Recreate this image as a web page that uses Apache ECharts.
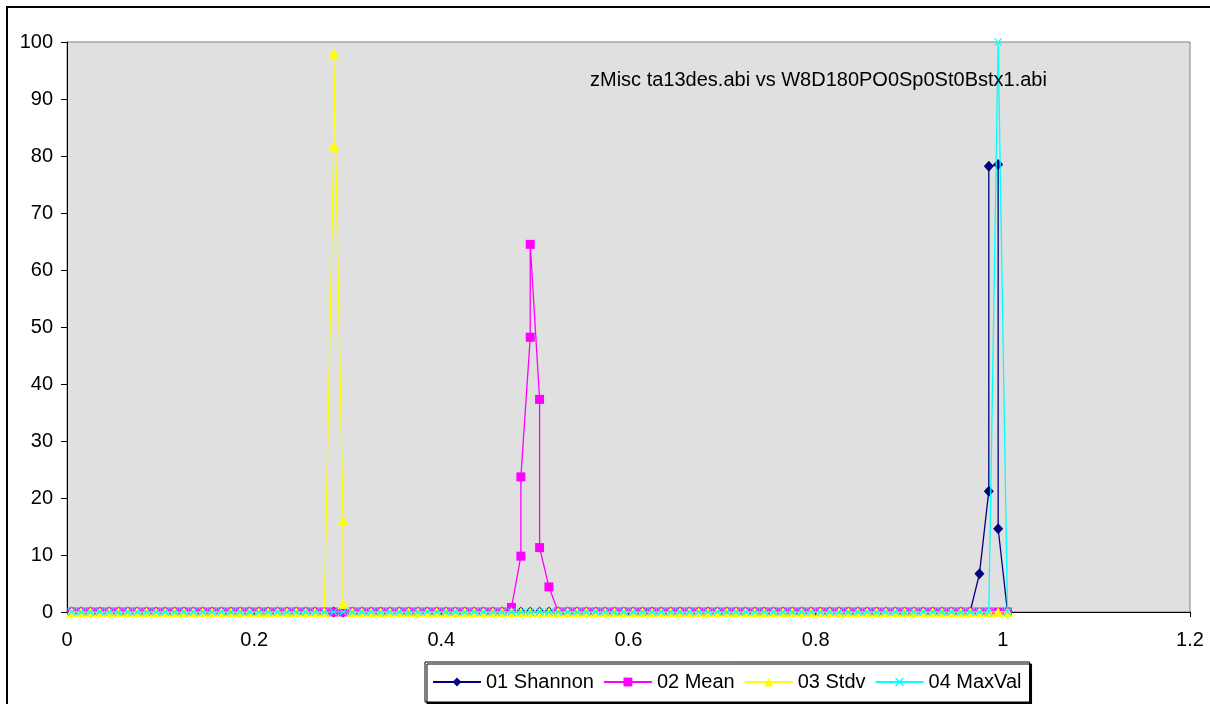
<!DOCTYPE html>
<html>
<head>
<meta charset="utf-8">
<script src="https://cdn.jsdelivr.net/npm/echarts@6/dist/echarts.min.js"></script>
<style>
html,body{margin:0;padding:0;background:#fff;}
#chart{width:1210px;height:704px;}
</style>
</head>
<body>
<div id="chart"></div>
<script>
// ---- data ----
const chartTitle = 'zMisc ta13des.abi vs W8D180PO0Sp0St0Bstx1.abi';
const seriesNames = ['01 Shannon', '02 Mean', '03 Stdv', '04 MaxVal'];
// bin centres where every series sits at 0 outside its peak
const xBins = [
  0.005,0.015,0.025,0.035,0.045,0.055,0.065,0.075,0.085,0.095,
  0.105,0.115,0.125,0.135,0.145,0.155,0.165,0.175,0.185,0.195,
  0.205,0.215,0.225,0.235,0.245,0.255,0.265,0.275,0.285,0.295,
  0.305,0.315,0.325,0.335,0.345,0.355,0.365,0.375,0.385,0.395,
  0.405,0.415,0.425,0.435,0.445,0.455,0.465,0.475,0.485,0.495,
  0.505,0.515,0.525,0.535,0.545,0.555,0.565,0.575,0.585,0.595,
  0.605,0.615,0.625,0.635,0.645,0.655,0.665,0.675,0.685,0.695,
  0.705,0.715,0.725,0.735,0.745,0.755,0.765,0.775,0.785,0.795,
  0.805,0.815,0.825,0.835,0.845,0.855,0.865,0.875,0.885,0.895,
  0.905,0.915,0.925,0.935,0.945,0.955,0.965,0.975,0.985,0.995,
  1.005
];
// peak points [x, y] (in drawing order)
const shannonPeak = [[0.965,0],[0.975,6.7],[0.985,21.2],[0.985,78.2],[0.995,78.5],[0.995,14.6],[1.005,0]];
const meanPeak    = [[0.465,0],[0.475,0.8],[0.485,9.8],[0.485,23.7],[0.495,48.2],[0.495,64.5],[0.505,37.3],[0.505,11.3],[0.515,4.4],[0.525,0]];
const stdvPeak    = [[0.275,0],[0.285,81.7],[0.285,98.0],[0.295,16.0],[0.295,1.4],[0.305,0]];
const maxValPeak  = [[0.985,0],[0.995,100],[1.005,0]];
const xTicks = {min: 0, max: 1.2, interval: 0.2};
const yTicks = {min: 0, max: 100, interval: 10};

function buildSeries(peak) {
  const s = peak[0][0], e = peak[peak.length - 1][0];
  const before = xBins.filter(x => x < s - 1e-9).map(x => [x, 0]);
  const after = xBins.filter(x => x > e + 1e-9).map(x => [x, 0]);
  return before.concat(peak, after);
}

const FONT = "'Liberation Sans', Arial, sans-serif";
const colors = ['#000080', '#FF00FF', '#FFFF00', '#00FFFF'];
const xMark = 'path://M1,0L5,4L9,0L10,1L6,5L10,9L9,10L5,6L1,10L0,9L4,5L0,1Z';
const peaks = [shannonPeak, meanPeak, stdvPeak, maxValPeak];
const symbols = ['diamond', 'rect', 'triangle', xMark];
const symbolSizes = [[10, 11], 9, [11, 10], 8];

const chart = echarts.init(document.getElementById('chart'), null, {renderer: 'canvas'});
chart.setOption({
  animation: false,
  backgroundColor: '#ffffff',
  color: colors,
  title: {
    text: chartTitle,
    left: 590, top: 70, padding: 0,
    textStyle: {fontFamily: FONT, fontSize: 20, fontWeight: 'normal', color: '#000'}
  },
  graphic: [{
    type: 'rect', silent: true, z: -1,
    shape: {x: 7, y: 7, width: 1220, height: 720},
    style: {fill: null, stroke: '#000', lineWidth: 2}
  }],
  grid: {
    left: 67, right: 20, top: 42, bottom: 92,
    show: true, backgroundColor: '#E0E0E0', borderColor: '#808080', borderWidth: 1
  },
  legend: {
    left: 425, top: 662,
    padding: [10, 8, 10, 7],
    itemWidth: 48, itemHeight: 11, itemGap: 9,
    backgroundColor: '#fff', borderColor: '#000', borderWidth: 1,
    shadowColor: '#000', shadowOffsetX: 2, shadowOffsetY: 2, shadowBlur: 0,
    textStyle: {fontFamily: FONT, fontSize: 20, color: '#000'},
    data: seriesNames
  },
  xAxis: {
    type: 'value', min: xTicks.min, max: xTicks.max, interval: xTicks.interval,
    axisLine: {show: true, onZero: false, lineStyle: {color: '#000', width: 1}},
    axisTick: {show: true, inside: false, length: 5, lineStyle: {color: '#000'}},
    axisLabel: {fontFamily: FONT, fontSize: 20, color: '#000', margin: 18,
      formatter: v => String(Math.round(v * 10) / 10)},
    splitLine: {show: false}
  },
  yAxis: {
    type: 'value', min: yTicks.min, max: yTicks.max, interval: yTicks.interval,
    axisLine: {show: true, lineStyle: {color: '#000', width: 1}},
    axisTick: {show: true, inside: false, length: 6, lineStyle: {color: '#000'}},
    axisLabel: {fontFamily: FONT, fontSize: 20, color: '#000', margin: 14},
    splitLine: {show: false}
  },
  series: seriesNames.map((name, i) => ({
    name: name,
    type: 'line',
    data: buildSeries(peaks[i]),
    symbol: symbols[i],
    symbolSize: symbolSizes[i],
    showAllSymbol: true,
    lineStyle: {color: colors[i], width: 1.3},
    itemStyle: {color: colors[i]},
    emphasis: {disabled: true},
    z: 2 + i
  }))
});
</script>
</body>
</html>
